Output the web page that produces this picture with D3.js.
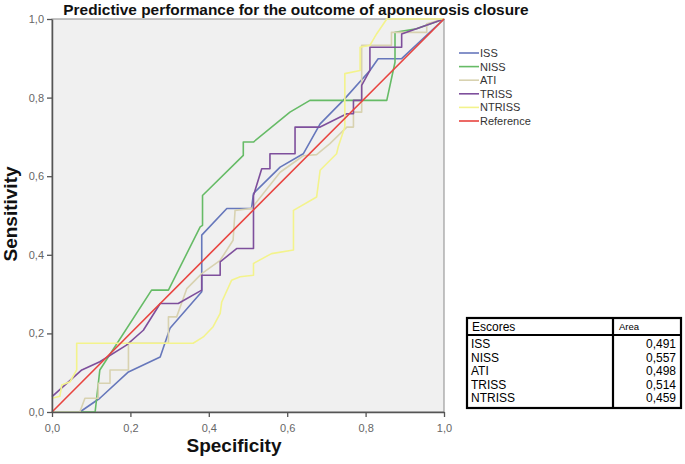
<!DOCTYPE html>
<html>
<head>
<meta charset="utf-8">
<script src="https://cdn.jsdelivr.net/npm/d3@7"></script>
<style>
	body { margin: 0; background: #fff; }
	svg { display: block; font-family: 'Liberation Sans', Arial, sans-serif; }
</style>
</head>
<body>
<div class="svg-container"></div>
<script>
// curve points: [1 - specificity, sensitivity]
const issPoints = [[0, 0], [0.071, 0], [0.122, 0.035], [0.195, 0.102], [0.276, 0.14], [0.301, 0.213], [0.382, 0.306], [0.382, 0.45], [0.446, 0.518], [0.509, 0.518], [0.514, 0.556], [0.582, 0.623], [0.641, 0.657], [0.684, 0.733], [0.743, 0.793], [0.811, 0.869], [0.832, 0.899], [0.892, 0.899], [1, 1]];
const nissPoints = [[0, 0], [0.11, 0], [0.122, 0.107], [0.254, 0.31], [0.297, 0.31], [0.378, 0.471], [0.384, 0.475], [0.384, 0.551], [0.488, 0.653], [0.488, 0.687], [0.514, 0.687], [0.607, 0.763], [0.658, 0.793], [0.854, 0.793], [0.875, 0.89], [0.875, 0.966], [0.93, 0.975], [1, 1]];
const atiPoints = [[0, 0], [0.071, 0], [0.084, 0.035], [0.118, 0.035], [0.118, 0.073], [0.148, 0.073], [0.148, 0.107], [0.195, 0.107], [0.195, 0.175], [0.297, 0.175], [0.297, 0.242], [0.318, 0.242], [0.344, 0.314], [0.382, 0.352], [0.429, 0.386], [0.462, 0.437], [0.467, 0.513], [0.509, 0.518], [0.582, 0.61], [0.641, 0.652], [0.675, 0.655], [0.709, 0.683], [0.752, 0.725], [0.769, 0.725], [0.769, 0.763], [0.79, 0.763], [0.79, 0.933], [0.866, 0.933], [0.866, 0.966], [0.956, 0.966], [0.956, 0.988], [1, 1]];
const trissPoints = [[0, 0.039], [0.076, 0.107], [0.122, 0.128], [0.19, 0.17], [0.233, 0.208], [0.276, 0.276], [0.322, 0.276], [0.382, 0.31], [0.382, 0.348], [0.429, 0.348], [0.429, 0.382], [0.471, 0.416], [0.514, 0.416], [0.514, 0.551], [0.535, 0.619], [0.556, 0.619], [0.556, 0.657], [0.62, 0.657], [0.62, 0.725], [0.684, 0.725], [0.752, 0.759], [0.769, 0.759], [0.769, 0.793], [0.79, 0.793], [0.79, 0.831], [0.811, 0.869], [0.811, 0.928], [0.892, 0.928], [0.892, 0.962], [1, 1]];
const ntrissPoints = [[0, 0.035], [0.02, 0.04], [0.025, 0.069], [0.046, 0.077], [0.063, 0.107], [0.063, 0.175], [0.36, 0.175], [0.386, 0.191], [0.411, 0.217], [0.429, 0.251], [0.433, 0.28], [0.458, 0.335], [0.48, 0.344], [0.514, 0.348], [0.514, 0.378], [0.56, 0.403], [0.616, 0.412], [0.616, 0.513], [0.675, 0.547], [0.684, 0.615], [0.726, 0.657], [0.73, 0.674], [0.747, 0.725], [0.747, 0.861], [0.786, 0.869], [0.786, 0.928], [0.811, 0.933], [0.828, 0.962], [0.854, 1], [1, 1]];
const referencePoints = [[0, 0], [1, 1]];

const seriesNames = ['ISS', 'NISS', 'ATI', 'TRISS', 'NTRISS', 'Reference'];
const seriesColors = ['#6677bb', '#66bb66', '#d8d2b0', '#7e4f9c', '#f3f38c', '#e8443f'];
const areaValues = ['0,491', '0,557', '0,498', '0,514', '0,459'];
const tickValues = [0, 0.2, 0.4, 0.6, 0.8, 1];

const w = 685;
const h = 464;

const svg = d3
	.select('.svg-container')
	.append('svg')
	.attr('width', w)
	.attr('height', h);

const x = d3.scaleLinear().domain([0, 1]).range([52, 444]);
const y = d3.scaleLinear().domain([0, 1]).range([412, 19]);

const fmt = d => d3.format('.1f')(d).replace('.', ',');

// plot background
svg
	.append('rect')
	.attr('x', x(0))
	.attr('y', y(1))
	.attr('width', x(1) - x(0))
	.attr('height', y(0) - y(1))
	.style('fill', '#f0f0f0')
	.style('stroke', '#8a8a8a')
	.style('stroke-width', 1);

const line = d3
	.line()
	.x(d => x(d[0]))
	.y(d => y(d[1]));

const allSeries = [issPoints, nissPoints, atiPoints, trissPoints, ntrissPoints, referencePoints];

svg
	.append('g')
	.selectAll('path')
	.data(allSeries)
	.enter()
	.append('path')
	.attr('d', line)
	.style('fill', 'none')
	.style('stroke', (d, i) => seriesColors[i])
	.style('stroke-width', 1.6)
	.style('stroke-linejoin', 'round');

// axes
const xAxis = svg
	.append('g')
	.attr('transform', `translate(0,${y(0)})`)
	.call(d3.axisBottom(x).tickValues(tickValues).tickFormat(fmt).tickSize(5).tickSizeOuter(0));

const yAxis = svg
	.append('g')
	.attr('transform', `translate(${x(0)},0)`)
	.call(d3.axisLeft(y).tickValues(tickValues).tickFormat(fmt).tickSize(5).tickSizeOuter(0));

[xAxis, yAxis].forEach(a => {
	a.select('.domain').style('stroke', '#555').style('stroke-width', 1.5);
	a.selectAll('.tick line').style('stroke', '#555').style('stroke-width', 1.3);
	a.selectAll('.tick text')
		.style('font-family', "'Liberation Sans', Arial, sans-serif")
		.style('font-size', '11px')
		.style('fill', '#666');
});
xAxis.selectAll('.tick text').attr('dy', '1.1em');

// titles
svg
	.append('text')
	.attr('x', 296)
	.attr('y', 15)
	.attr('text-anchor', 'middle')
	.style('font-weight', 'bold')
	.style('font-size', '15.4px')
	.style('fill', '#111')
	.text('Predictive performance for the outcome of aponeurosis closure');

svg
	.append('text')
	.attr('x', 234)
	.attr('y', 452)
	.attr('text-anchor', 'middle')
	.style('font-weight', 'bold')
	.style('font-size', '19px')
	.style('fill', '#111')
	.text('Specificity');

svg
	.append('text')
	.attr('transform', 'translate(16.5,214) rotate(-90)')
	.attr('text-anchor', 'middle')
	.style('font-weight', 'bold')
	.style('font-size', '19px')
	.style('fill', '#111')
	.text('Sensitivity');

// legend
const legend = svg.append('g').attr('id', 'legend');
legend
	.selectAll('line')
	.data(seriesNames)
	.enter()
	.append('line')
	.attr('x1', 459)
	.attr('x2', 479)
	.attr('y1', (d, i) => 53 + i * 13.6)
	.attr('y2', (d, i) => 53 + i * 13.6)
	.style('stroke', (d, i) => seriesColors[i])
	.style('stroke-width', 1.6);
legend
	.selectAll('text')
	.data(seriesNames)
	.enter()
	.append('text')
	.attr('x', 480)
	.attr('y', (d, i) => 53 + i * 13.6 + 4)
	.style('font-size', '11px')
	.style('fill', '#333')
	.text(d => d);

// area table
const table = svg.append('g').attr('id', 'area-table');
const tx0 = 467, tx1 = 681, tDiv = 613, ty0 = 318, tHead = 335, ty1 = 408;
table
	.append('rect')
	.attr('x', tx0)
	.attr('y', ty0)
	.attr('width', tx1 - tx0)
	.attr('height', ty1 - ty0)
	.style('fill', '#fff')
	.style('stroke', '#000')
	.style('stroke-width', 2.2);
table
	.append('line')
	.attr('x1', tDiv).attr('x2', tDiv)
	.attr('y1', ty0).attr('y2', ty1)
	.style('stroke', '#000')
	.style('stroke-width', 2.2);
table
	.append('line')
	.attr('x1', tx0).attr('x2', tx1)
	.attr('y1', tHead).attr('y2', tHead)
	.style('stroke', '#000')
	.style('stroke-width', 2.2);
table
	.append('text')
	.attr('x', tx0 + 5)
	.attr('y', 331)
	.style('font-size', '12px')
	.text('Escores');
table
	.append('text')
	.attr('x', tDiv + 6)
	.attr('y', 330)
	.style('font-size', '9.5px')
	.text('Area');
table
	.selectAll('.row-name')
	.data(seriesNames.slice(0, 5))
	.enter()
	.append('text')
	.attr('class', 'row-name')
	.attr('x', tx0 + 4)
	.attr('y', (d, i) => 348 + i * 13.6)
	.style('font-size', '12px')
	.text(d => d);
table
	.selectAll('.row-value')
	.data(areaValues)
	.enter()
	.append('text')
	.attr('class', 'row-value')
	.attr('x', tx1 - 5)
	.attr('y', (d, i) => 348 + i * 13.6)
	.attr('text-anchor', 'end')
	.style('font-size', '12px')
	.text(d => d);
</script>
</body>
</html>
